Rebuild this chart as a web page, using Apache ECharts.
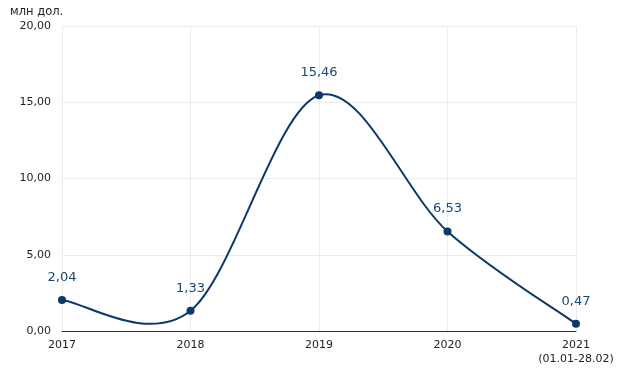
<!DOCTYPE html>
<html><head><meta charset="utf-8">
<script src="https://cdn.jsdelivr.net/npm/echarts@6/dist/echarts.min.js"></script>
<style>html,body{margin:0;padding:0;background:#fff}#c{width:621px;height:371px}</style>
</head><body><div id="c"></div>
<script>
var categories = ['2017', '2018', '2019', '2020', '2021\n(01.01-28.02)'];
var values = [2.04, 1.33, 15.46, 6.53, 0.47];
var yTicks = [0, 5, 10, 15, 20];
var yName = 'млн дол.';

function fmt(v){ return v.toFixed(2).replace('.', ','); }
var lineColor = '#0d3868';
var chart = echarts.init(document.getElementById('c'));

function renderCurve(params, api) {
  if (params.dataIndex !== 0) return null;
  var pts = values.map(function(v, i){ return api.coord([i, v]); });
  var n = pts.length, children = [];
  for (var i = 0; i < n - 1; i++) {
    var p0 = pts[Math.max(i - 1, 0)], p1 = pts[i], p2 = pts[i + 1], p3 = pts[Math.min(i + 2, n - 1)];
    children.push({
      type: 'bezierCurve',
      shape: {
        x1: p1[0], y1: p1[1], x2: p2[0], y2: p2[1],
        cpx1: p1[0] + (p2[0] - p0[0]) / 6, cpy1: p1[1] + (p2[1] - p0[1]) / 6,
        cpx2: p2[0] - (p3[0] - p1[0]) / 6, cpy2: p2[1] - (p3[1] - p1[1]) / 6
      },
      style: {stroke: lineColor, lineWidth: 2, fill: null}
    });
  }
  return {type: 'group', children: children};
}

chart.setOption({
  animation: false,
  textStyle: {fontFamily: 'DejaVu Sans'},
  grid: {left: 62, right: 45, top: 26, bottom: 40},
  xAxis: {
    type: 'category', data: categories, boundaryGap: false,
    axisLine: {lineStyle: {color: '#333', width: 1}},
    axisTick: {show: false},
    axisLabel: {color: '#222', fontSize: 11, margin: 7, lineHeight: 14, fontFamily: 'DejaVu Sans'},
    splitLine: {show: true, lineStyle: {color: '#ebebeb'}}
  },
  yAxis: {
    type: 'value', min: yTicks[0], max: yTicks[yTicks.length-1], interval: 5,
    name: yName, nameLocation: 'end', nameGap: 8,
    nameTextStyle: {color: '#222', fontSize: 11.5, align: 'left', padding: [0,0,0,-52]},
    axisLine: {show: false}, axisTick: {show: false},
    axisLabel: {color: '#222', fontSize: 11, margin: 11, formatter: fmt},
    splitLine: {lineStyle: {color: '#ebebeb'}}
  },
  series: [{
    type: 'custom', renderItem: renderCurve,
    data: values.map(function(v, i){ return [i, v]; }),
    encode: {x: 0, y: 1}, silent: true, z: 2
  }, {
    type: 'line', data: values, smooth: false,
    symbol: 'circle', symbolSize: 8,
    lineStyle: {width: 0, opacity: 0},
    itemStyle: {color: lineColor},
    z: 3,
    label: {show: true, position: 'top', distance: 12, color: '#1b4676', fontSize: 13,
      formatter: function(p){ return fmt(p.value); }}
  }]
});
</script></body></html>
